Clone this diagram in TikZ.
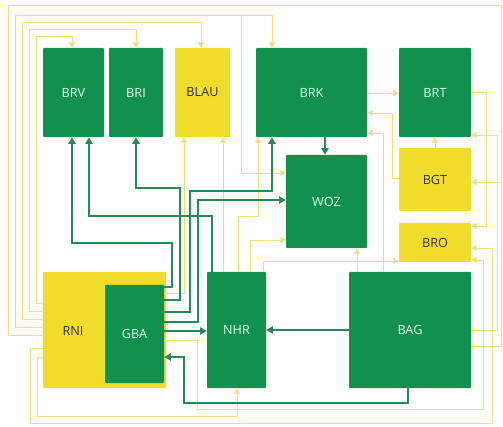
\documentclass[tikz,border=0pt]{standalone}
\usepackage{fontspec}
\setmainfont{Open Sans}
\usetikzlibrary{arrows.meta}
\definecolor{boxgreen}{RGB}{16,145,78}
\definecolor{boxyellow}{RGB}{240,220,42}
\definecolor{lineyellow}{RGB}{238,222,128}
\definecolor{linegreen}{RGB}{38,138,84}
\tikzset{
  gbox/.style={fill=boxgreen, text=white!90!green, inner sep=0pt, rounded corners=0.6pt},
  ybox/.style={fill=boxyellow, text=black!80, inner sep=0pt, rounded corners=0.6pt},
  yl/.style={draw=lineyellow, line width=0.7pt, -{Triangle[length=4pt,width=4.5pt]}},
  gl/.style={draw=linegreen, line width=1.3pt, -{Triangle[length=5pt,width=5.5pt]}}
}
\begin{document}
\begin{tikzpicture}[x=0.75pt, y=-0.75pt, font=\fontsize{9.5}{11}\selectfont]
\useasboundingbox (0,0) rectangle (503,427);
% boxes
\node (brv)  [gbox, minimum width=45.75pt, minimum height=66.75pt] at (73.5,92.5) {BRV};
\node (bri)  [gbox, minimum width=40.5pt,  minimum height=66.75pt] at (136,92.5) {BRI};
\node (blau) [ybox, minimum width=41.25pt, minimum height=66.75pt] at (202.5,92.5) {BLAU};
\node (brk)  [gbox, minimum width=83.25pt, minimum height=66.75pt] at (311.5,92.5) {BRK};
\node (brt)  [gbox, minimum width=54pt,    minimum height=66.75pt] at (435,92.5) {BRT};
\node (woz)  [gbox, minimum width=60.75pt, minimum height=69.75pt] at (326.5,201.5) {WOZ};
\node (bgt)  [ybox, minimum width=54pt,    minimum height=47.25pt] at (435,179.5) {BGT};
\node (bro)  [ybox, minimum width=54pt,    minimum height=29.25pt] at (435,242.5) {BRO};
\node (rni)  [ybox, minimum width=92.25pt, minimum height=87pt] at (104.5,330) {};
\node (rnilbl) [text=black!80] at (73,331) {RNI};
\node (gba)  [gbox, minimum width=44.25pt, minimum height=73.5pt] at (134.5,334) {GBA};
\node (nhr)  [gbox, minimum width=44.25pt, minimum height=87pt] at (236.5,330) {NHR};
\node (bag)  [gbox, minimum width=91.5pt,  minimum height=87pt] at (410,330) {BAG};
\coordinate (tap) at (241,15);
% yellow links
\draw[yl] (rni.west |- 0,303) -| (36,36) -| (brv.north -| 72,0);
\draw[yl] (rni.west |- 0,311) -| (29,29) -| (bri.north -| 136,0);
\draw[yl] (rni.west |- 0,319) -| (22,22) -| (blau.north -| 201,0);
\draw[yl] (rni.west |- 0,327) -| (15,15) -| (brk.north -| 272,0);
\draw[yl] (rni.west |- 0,335) -| (8,5) -| (501,182) -- (bgt.east |- 0,182);
\draw[yl] (rni.west |- 0,348) -| (30,423) -| (492,248) -- (bro.east |- 0,248);
\draw[yl] (rni.west |- 0,357) -| (37,416) -| (nhr.south -| 237,0);
\draw[yl] (tap) |- (woz.west |- 0,173);
\draw[yl] (gba.east |- 0,293) -| (blau.south -| 184,0);
\draw[yl] (gba.east |- 0,340) -| (197,409) -| (483,260) -- (bro.east |- 0,260);
\draw[yl] (nhr.north -| 223,0) -- (blau.south -| 223,0);
\draw[yl] (nhr.north -| 238,0) |- (258,216) -- (brk.south -| 258,0);
\draw[yl] (nhr.north -| 250,0) |- (woz.west |- 0,240);
\draw[yl] (nhr.north -| 263,0) |- (bro.west |- 0,261);
\draw[yl] (bag.north -| 357,0) -- (woz.south -| 357,0);
\draw[yl] (bag.north -| 383,0) |- (brk.east |- 0,133);
\draw[yl] (bgt.west |- 0,178) -| (392,113) -- (brk.east |- 0,113);
\draw[yl] (brk.east |- 0,93) -- (brt.west |- 0,93);
\draw[yl] (bgt.north -| 435,0) -- (brt.south -| 435,0);
\draw[yl] (brt.east |- 0,92) -| (486,226) -- (bro.east |- 0,226);
\draw[yl] (bag.east |- 0,330) -| (497,135) -- (brt.east |- 0,135);
\draw[yl] (bag.east |- 0,346) -| (501,182) -- (bgt.east |- 0,182);
% green links
\draw[gl] (gba.east |- 0,287) -| (172,243) -| (brv.south -| 72,0);
\draw[gl] (nhr.north -| 212,0) |- (89,216) -- (brv.south -| 89,0);
\draw[gl] (gba.east |- 0,300) -| (180,188) -| (bri.south -| 136,0);
\draw[gl] (gba.east |- 0,312) -| (190,191) -| (brk.south -| 272,0);
\draw[gl] (gba.east |- 0,322) -| (198,200) -- (woz.west |- 0,200);
\draw[gl] (gba.east |- 0,331) -- (nhr.west |- 0,331);
\draw[gl] (bag.west |- 0,330) -- (nhr.east |- 0,330);
\draw[gl] (bag.south -| 408,0) |- (184,403) |- (gba.east |- 0,357);
\draw[gl] (brk.south -| 325,0) -- (woz.north -| 325,0);
\end{tikzpicture}
\end{document}
